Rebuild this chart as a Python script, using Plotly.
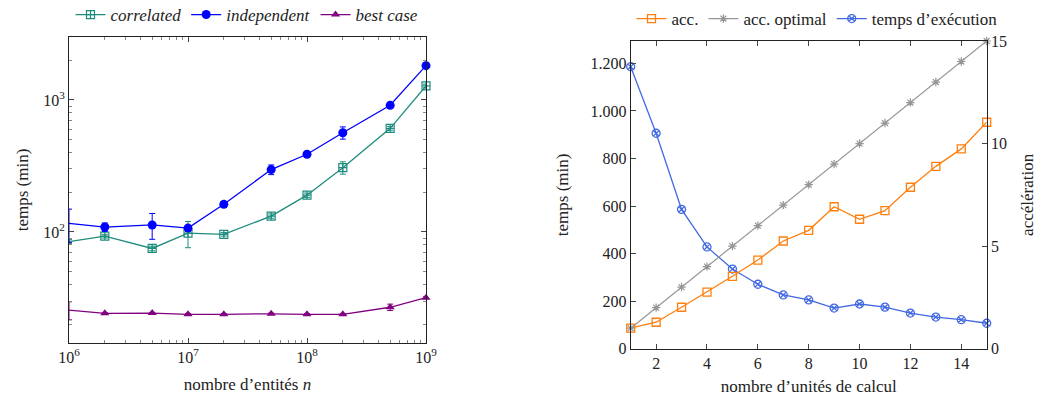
import plotly.graph_objects as go

# ---------- Left chart data ----------
n_entites = [1e6, 2e6, 5e6, 1e7, 2e7, 5e7, 1e8, 2e8, 5e8, 1e9]
correlated = [84.5, 93, 75, 98, 96, 132, 190, 307, 610, 1277]
correlated_err = [3, 3, 3, 22, 3, 5, 7, 33, 20, 40]
independent = [116, 109, 113, 107, 162, 297, 388, 565, 911, 1820]
independent_err = [33, 8, 25, 5, 8, 25, 10, 60, 15, 40]
best_case = [25.6, 24.2, 24.3, 23.8, 23.8, 24.0, 23.8, 23.8, 26.9, 31.8]
best_case_err = [4, 0.3, 0.3, 0.3, 0.3, 0.3, 0.3, 0.3, 1.5, 0.5]

# ---------- Right chart data ----------
unites = list(range(1, 16))
temps_exec = [1186, 906, 586, 428, 335, 271, 226, 205, 171, 188, 175, 150, 133, 122, 107]
acc = [1.0, 1.29, 2.02, 2.76, 3.53, 4.32, 5.25, 5.77, 6.92, 6.31, 6.73, 7.87, 8.89, 9.74, 11.04]
acc_opt = list(range(1, 16))

left_ytick_vals = [100, 1000]
left_ytick_text = ["10<sup>2</sup>", "10<sup>3</sup>"]
left_xtick_vals = [1e6, 1e7, 1e8, 1e9]
left_xtick_text = ["10<sup>6</sup>", "10<sup>7</sup>", "10<sup>8</sup>", "10<sup>9</sup>"]
right_ytick_vals = [0, 200, 400, 600, 800, 1000, 1200]
right_ytick_text = ["0", "200", "400", "600", "800", "1.000", "1.200"]

FONT = "Liberation Serif"
TEAL = "rgb(30,140,125)"
BLUE = "rgb(0,0,255)"
PURPLE = "rgb(128,0,128)"
ORANGE = "rgb(255,127,14)"
GRAY = "rgb(150,150,150)"
RBLUE = "rgb(65,105,225)"

fig = go.Figure()

def err(vals):
    return dict(type="data", array=vals, visible=True, thickness=1, width=3)

fig.add_trace(go.Scatter(x=n_entites, y=correlated, name="<i>correlated</i>", mode="lines+markers",
                         line=dict(color=TEAL, width=1.3),
                         marker=dict(symbol="square-cross-open", size=8, color=TEAL, line=dict(width=1.2, color=TEAL)),
                         error_y=dict(err(correlated_err), color=TEAL),
                         xaxis="x", yaxis="y", legend="legend", cliponaxis=False))
fig.add_trace(go.Scatter(x=n_entites, y=independent, name="<i>independent</i>", mode="lines+markers",
                         line=dict(color=BLUE, width=1.3),
                         marker=dict(symbol="circle", size=9, color=BLUE),
                         error_y=dict(err(independent_err), color=BLUE),
                         xaxis="x", yaxis="y", legend="legend", cliponaxis=False))
fig.add_trace(go.Scatter(x=n_entites, y=best_case, name="<i>best case</i>", mode="lines+markers",
                         line=dict(color=PURPLE, width=1.3),
                         marker=dict(symbol="triangle-up", size=8, color=PURPLE),
                         error_y=dict(err(best_case_err), color=PURPLE),
                         xaxis="x", yaxis="y", legend="legend", cliponaxis=False))

fig.add_trace(go.Scatter(x=unites, y=acc, name="acc.", mode="lines+markers",
                         line=dict(color=ORANGE, width=1.3),
                         marker=dict(symbol="square-open", size=8, color=ORANGE, line=dict(width=1.3, color=ORANGE)),
                         xaxis="x2", yaxis="y3", legend="legend2", cliponaxis=False))
fig.add_trace(go.Scatter(x=unites, y=acc_opt, name="acc. optimal", mode="lines+markers",
                         line=dict(color=GRAY, width=1.2),
                         marker=dict(symbol="asterisk-open", size=7, color=GRAY, line=dict(width=1.2, color=GRAY)),
                         xaxis="x2", yaxis="y3", legend="legend2", cliponaxis=False))
fig.add_trace(go.Scatter(x=unites, y=temps_exec, name="temps d’exécution", mode="lines+markers",
                         line=dict(color=RBLUE, width=1.3),
                         marker=dict(symbol="circle-x-open", size=8, color=RBLUE, line=dict(width=1.3, color=RBLUE)),
                         xaxis="x2", yaxis="y2", legend="legend2", cliponaxis=False))

W, H = 1042, 396
ax_common = dict(showline=True, linecolor="#222", linewidth=1, mirror="ticks", ticks="inside",
                 ticklen=5, tickcolor="#444", showgrid=False, zeroline=False, automargin=False,
                 tickfont=dict(family=FONT, size=16, color="#222"))
TITLE_FONT = dict(family=FONT, size=17, color="#222")

minor_x = [m * 10 ** e for e in range(6, 9) for m in range(2, 10)]
minor_y = [m * 10 ** e for e in range(1, 4) for m in range(1, 10)]
minor_y = [v for v in minor_y if v not in (100, 1000) and 14.4 < v < 3000]

fig.update_layout(
    width=W, height=H, margin=dict(l=0, r=0, t=0, b=0, autoexpand=False),
    paper_bgcolor="white", plot_bgcolor="white",
    font=dict(family=FONT, size=16, color="#222"),
    xaxis=dict(ax_common, type="log", domain=[69 / W, 426 / W], range=[6, 9],
               tickvals=left_xtick_vals, ticktext=left_xtick_text, anchor="y",
               minor=dict(ticks="inside", ticklen=3, tickcolor="#888", tickvals=minor_x),
               title=dict(text="nombre d’entités <i>n</i>", font=TITLE_FONT, standoff=12)),
    yaxis=dict(ax_common, type="log", domain=[1 - 343 / H, 1 - 37 / H], range=[1.159, 3.477],
               tickvals=left_ytick_vals, ticktext=left_ytick_text, anchor="x",
               minor=dict(ticks="inside", ticklen=3, tickcolor="#888", tickvals=minor_y),
               title=dict(text="temps (min)", font=TITLE_FONT, standoff=10)),
    xaxis2=dict(ax_common, domain=[630.7 / W, 986.7 / W], range=[1, 15],
                tickvals=[2, 4, 6, 8, 10, 12, 14], anchor="y2",
                title=dict(text="nombre d’unités de calcul", font=TITLE_FONT, standoff=10)),
    yaxis2=dict(ax_common, domain=[1 - 348.7 / H, 1 - 41 / H], range=[0, 1294], mirror=False,
                tickvals=right_ytick_vals, ticktext=right_ytick_text, anchor="x2",
                title=dict(text="temps (min)", font=TITLE_FONT, standoff=17)),
    yaxis3=dict(ax_common, domain=[1 - 348.7 / H, 1 - 41 / H], range=[0, 15], mirror=False,
                overlaying="y2", side="right", anchor="x2", tickvals=[0, 5, 10, 15],
                title=dict(text="accélération", font=TITLE_FONT, standoff=15)),
    legend=dict(orientation="h", x=247 / W, xanchor="center", y=1 + 3 / H, yanchor="top",
                font=dict(family=FONT, size=17), bgcolor="rgba(0,0,0,0)", itemwidth=30),
    legend2=dict(orientation="h", x=817 / W, xanchor="center", y=1 - 1 / H, yanchor="top",
                 font=dict(family=FONT, size=17), bgcolor="rgba(0,0,0,0)", itemwidth=30),
)

fig.write_html("out.html", config={"displayModeBar": False},
               post_script="document.body.style.margin='0';document.body.style.overflow='hidden';")
